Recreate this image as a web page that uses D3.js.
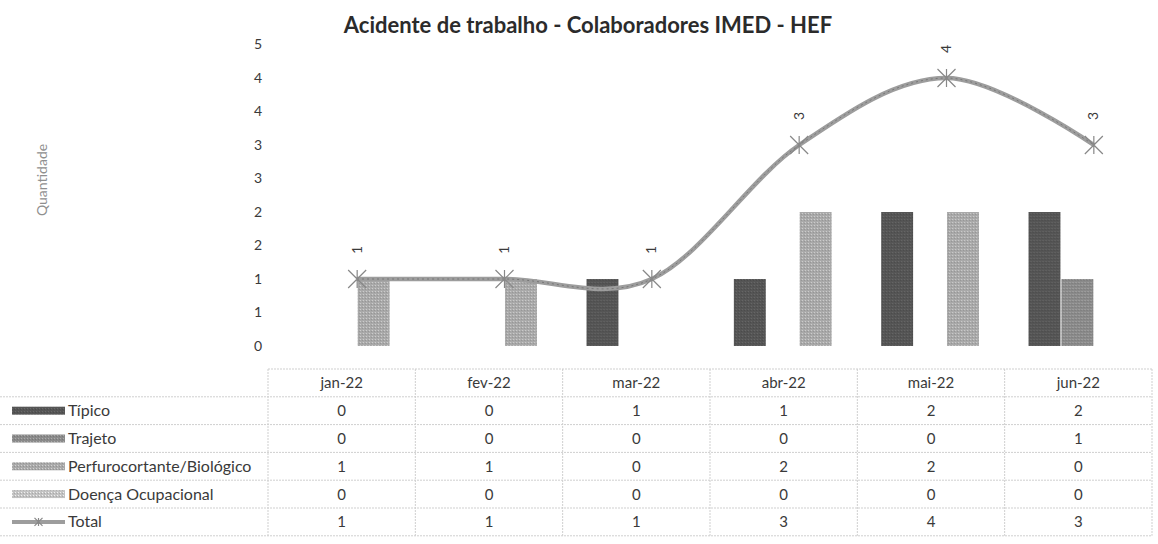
<!DOCTYPE html>
<html>
<head>
<meta charset="utf-8">
<script src="https://cdn.jsdelivr.net/npm/d3@7"></script>
<style>
  html, body { margin: 0; padding: 0; background: #fff; }
  svg { display: block; font-family: Lato, "Open Sans", sans-serif; }
</style>
</head>
<body>
<div id="chart"></div>
<script>
// data
var months = ["jan-22", "fev-22", "mar-22", "abr-22", "mai-22", "jun-22"];
var seriesNames = ["Típico", "Trajeto", "Perfurocortante/Biológico", "Doença Ocupacional"];
var tipico  = [0, 0, 1, 1, 2, 2];
var trajeto = [0, 0, 0, 0, 0, 1];
var perfuro = [1, 1, 0, 2, 2, 0];
var doenca  = [0, 0, 0, 0, 0, 0];
var total   = [1, 1, 1, 3, 4, 3];
var yTicks  = [0, 0.5, 1, 1.5, 2, 2.5, 3, 3.5, 4, 4.5];

var seriesValues = [tipico, trajeto, perfuro, doenca];
var seriesColors = ["#555555", "#8a8a8a", "#a9a9a9", "#c2c2c2"];

var width = 1158, height = 544;

var svg = d3.select("#chart")
    .append("svg")
        .attr("width", width)
        .attr("height", height);

// grainy fills to look like the scanned bars
var defs = svg.append("defs");
seriesColors.forEach(function(c, i) {
    var p = defs.append("pattern")
        .attr("id", "pat" + i)
        .attr("patternUnits", "userSpaceOnUse")
        .attr("width", 3).attr("height", 3);
    p.append("rect").attr("width", 3).attr("height", 3).attr("fill", c);
    p.append("rect").attr("x", 0).attr("y", 0).attr("width", 1).attr("height", 1)
        .attr("fill", d3.color(c).brighter(0.6));
    p.append("rect").attr("x", 2).attr("y", 1).attr("width", 1).attr("height", 1)
        .attr("fill", d3.color(c).darker(0.4));
});

// title
svg.append("text")
    .attr("x", 588)
    .attr("y", 33)
    .attr("text-anchor", "middle")
    .style("font-size", "22px")
    .style("font-weight", "bold")
    .style("fill", "#2b2b2b")
    .text("Acidente de trabalho - Colaboradores IMED - HEF");

// scales
var x0 = d3.scaleBand()
    .domain(months)
    .range([283.5, 1167.5])
    .paddingInner(0.1)
    .paddingOuter(0.05);

var x1 = d3.scaleBand()
    .domain(d3.range(seriesNames.length))
    .range([0, x0.bandwidth()])
    .padding(0.03);

var y = d3.scaleLinear()
    .domain([0, 4.5])
    .range([346, 44.5]);

// Y axis
var yAxis = svg.append("g")
    .attr("transform", "translate(266,0)")
    .call(d3.axisLeft(y)
        .tickValues(yTicks)
        .tickSize(0)
        .tickPadding(4)
        .tickFormat(function(d) { return Math.round(d); }));
yAxis.select(".domain").remove();
yAxis.selectAll("text")
    .style("font-size", "14px")
    .style("fill", "#3a3a3a")
    .style("font-family", "Lato, sans-serif");

// Y axis label
svg.append("text")
    .attr("transform", "rotate(-90)")
    .attr("x", -180)
    .attr("y", 47)
    .attr("text-anchor", "middle")
    .style("font-size", "14px")
    .style("fill", "#8f8f8f")
    .text("Quantidade");

// bars
var groups = svg.append("g")
    .selectAll("g")
    .data(months)
    .enter()
    .append("g")
        .attr("transform", function(d) { return "translate(" + x0(d) + ",0)"; });

groups.selectAll("rect")
    .data(function(d, mi) {
        return seriesValues.map(function(vals, si) { return {s: si, v: vals[mi]}; });
    })
    .enter()
    .append("rect")
        .filter(function(d) { return d.v > 0; })
        .attr("x", function(d) { return x1(d.s); })
        .attr("y", function(d) { return y(d.v); })
        .attr("width", x1.bandwidth())
        .attr("height", function(d) { return y(0) - y(d.v); })
        .style("fill", function(d) { return "url(#pat" + d.s + ")"; });

// total line (smoothed)
var line = d3.line()
    .x(function(d, i) { return x0(months[i]) + x0.bandwidth() / 2; })
    .y(function(d) { return y(d); })
    .curve(d3.curveCatmullRom.alpha(0));

svg.append("path")
    .datum(total)
    .attr("d", line)
    .attr("fill", "none")
    .attr("stroke", "#9d9d9d")
    .attr("stroke-width", 4.5);
svg.append("path")
    .datum(total)
    .attr("d", line)
    .attr("fill", "none")
    .attr("stroke", "#777")
    .attr("stroke-width", 1)
    .attr("stroke-dasharray", "2,3");

// star markers
function drawStar(g, cx, cy, r) {
    g.append("path")
        .attr("d", "M" + (cx - r) + "," + (cy - r) + "L" + (cx + r) + "," + (cy + r) +
                   "M" + (cx - r) + "," + (cy + r) + "L" + (cx + r) + "," + (cy - r) +
                   "M" + cx + "," + (cy - r) + "L" + cx + "," + (cy + r))
        .attr("stroke", "#888")
        .attr("stroke-width", 1.2)
        .attr("fill", "none");
}
var markers = svg.append("g");
total.forEach(function(v, i) {
    drawStar(markers, x0(months[i]) + x0.bandwidth() / 2, y(v), 9);
});

// data labels (rotated)
svg.append("g")
    .selectAll("text")
    .data(total)
    .enter()
    .append("text")
        .attr("transform", function(d, i) {
            return "translate(" + (x0(months[i]) + x0.bandwidth() / 2 + 4.5) + "," + (y(d) - 29) + ") rotate(-90)";
        })
        .attr("text-anchor", "middle")
        .style("font-size", "14px")
        .style("fill", "#3a3a3a")
        .text(function(d) { return d; });

// data table
var tx = d3.scaleBand()
    .domain(months)
    .range([268, 1152]);

var rowTop = 369, rowH = 27.8;
var rows = seriesNames.concat(["Total"]);
var rowValues = seriesValues.concat([total]);
var ty = d3.scaleBand()
    .domain(d3.range(rows.length + 1))
    .range([rowTop, rowTop + rowH * (rows.length + 1)]);

var grid = svg.append("g")
    .attr("stroke", "#cfcfcf")
    .attr("stroke-width", 1)
    .attr("stroke-dasharray", "2,1");

// horizontal lines
grid.append("line")
    .attr("x1", 268).attr("x2", 1152)
    .attr("y1", ty(0)).attr("y2", ty(0));
d3.range(1, rows.length + 2).forEach(function(k) {
    var yy = rowTop + rowH * k;
    grid.append("line")
        .attr("x1", 0).attr("x2", 1152)
        .attr("y1", yy).attr("y2", yy);
});
// vertical lines
months.forEach(function(m) {
    grid.append("line")
        .attr("x1", tx(m)).attr("x2", tx(m))
        .attr("y1", ty(0)).attr("y2", rowTop + rowH * (rows.length + 1));
});
grid.append("line")
    .attr("x1", 1152).attr("x2", 1152)
    .attr("y1", ty(0)).attr("y2", rowTop + rowH * (rows.length + 1));

// header
svg.append("g")
    .selectAll("text")
    .data(months)
    .enter()
    .append("text")
        .attr("x", function(d) { return tx(d) + tx.bandwidth() / 2; })
        .attr("y", ty(0) + ty.bandwidth() / 2 + 5)
        .attr("text-anchor", "middle")
        .style("font-size", "15px")
        .style("fill", "#3a3a3a")
        .text(function(d) { return d; });

// rows
rows.forEach(function(name, r) {
    var cy = ty(r + 1) + ty.bandwidth() / 2;
    if (r < seriesNames.length) {
        svg.append("rect")
            .attr("x", 12).attr("y", cy - 4)
            .attr("width", 53).attr("height", 8)
            .style("fill", "url(#pat" + r + ")");
    } else {
        svg.append("line")
            .attr("x1", 12).attr("x2", 65)
            .attr("y1", cy).attr("y2", cy)
            .attr("stroke", "#9d9d9d").attr("stroke-width", 4);
        drawStar(svg, 38.5, cy, 4);
    }
    svg.append("text")
        .attr("x", 68)
        .attr("y", cy + 5.5)
        .style("font-size", "16px")
        .style("fill", "#3a3a3a")
        .text(name);

    svg.append("g")
        .selectAll("text")
        .data(rowValues[r])
        .enter()
        .append("text")
            .attr("x", function(d, i) { return tx(months[i]) + tx.bandwidth() / 2; })
            .attr("y", cy + 5.5)
            .attr("text-anchor", "middle")
            .style("font-size", "15px")
            .style("fill", "#3a3a3a")
            .text(function(d) { return d; });
});
</script>
</body>
</html>
